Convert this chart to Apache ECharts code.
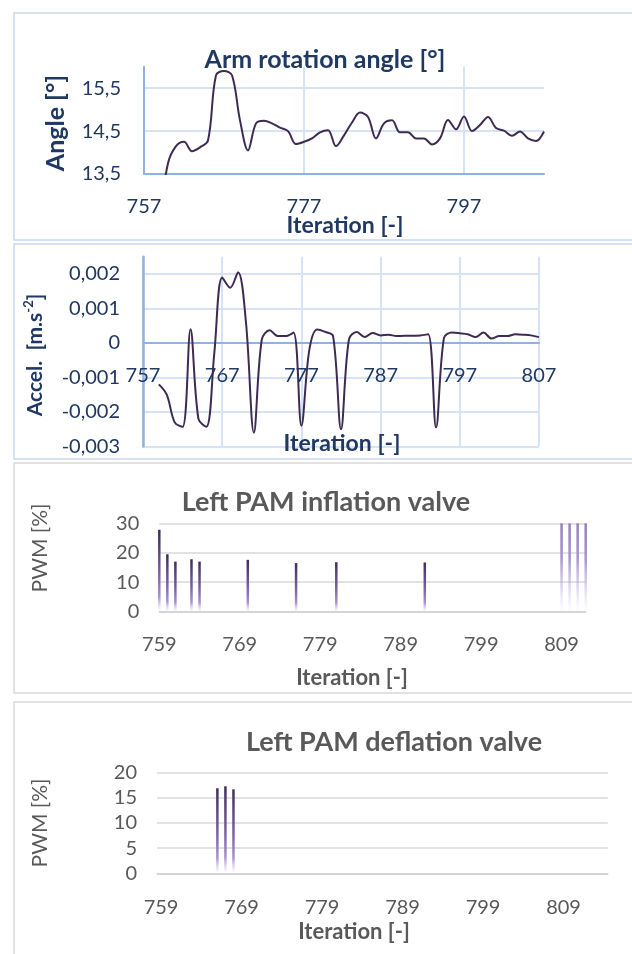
<!DOCTYPE html>
<html>
<head>
    <meta charset="utf-8">
    <title>Arm rotation / PAM valves</title>
    <script src="https://cdn.jsdelivr.net/npm/echarts@6/dist/echarts.min.js"></script>
    <style>
        body { margin: 0; background: #fff; }
    </style>
</head>
<body>
<div id="chart" style="width: 632px; height: 954px;"></div>

<script>
    // iterations of the two upper charts (757..807)
    var iterTop = [];
    for (var i = 757; i <= 807; i++) iterTop.push(String(i));
    // iterations of the valve charts
    var iterInfl = [];
    for (var i = 759; i <= 812; i++) iterInfl.push(String(i));
    var iterDefl = [];
    for (var i = 759; i <= 814; i++) iterDefl.push(String(i));

    // arm rotation angle [deg], one value per iteration 757..807
    var angle = [
        null, null, 12.5, 13.75, 14.15, 14.25, 14.03, 14.12, 14.28, 15.8,
        15.9, 15.8, 14.75, 14.05, 14.68, 14.74, 14.68, 14.58, 14.5, 14.2,
        14.25, 14.33, 14.47, 14.52, 14.15, 14.4, 14.7, 14.93, 14.83, 14.33,
        14.68, 14.75, 14.47, 14.47, 14.33, 14.33, 14.19, 14.33, 14.76, 14.54,
        14.84, 14.5, 14.64, 14.83, 14.57, 14.51, 14.39, 14.49, 14.33, 14.27, 14.49
    ];
    // acceleration [m.s-2], iterations 757..807
    var accel = [
        null, null, -0.0012, -0.0015, -0.0023, -0.00243, 0.0004, -0.0022, -0.00243, -0.0003,
        0.0019, 0.0016, 0.00205, 0.0006, -0.0026, 0.0001, 0.00037, 0.0002, 0.0002, 0.0003,
        -0.0024, -0.0002, 0.00039, 0.00032, 0.0002, -0.0025, 0.0001, 0.00032, 0.00017, 0.00029,
        0.00022, 0.00024, 0.0002, 0.00021, 0.00021, 0.00022, 0.00025, -0.00245, 0.00015, 0.0003,
        0.00028, 0.00025, 0.00017, 0.0003, 0.00013, 0.0002, 0.0002, 0.00025, 0.00024, 0.00022, 0.00017
    ];
    // inflation valve PWM [%] (only the non-zero iterations)
    var inflIter = [759, 760, 761, 763, 764, 770, 776, 781, 792, 809, 810, 811, 812];
    var inflPwm = [27.8, 19.5, 17, 17.8, 17, 17.6, 16.5, 16.8, 16.7, 100, 100, 100, 100];
    // deflation valve PWM [%]
    var deflIter = [766, 767, 768];
    var deflPwm = [16.9, 17.3, 16.7];

    var angleTicks = [13.5, 14.5, 15.5];
    var accelTicks = [-0.003, -0.002, -0.001, 0, 0.001, 0.002];

    var navy = '#1f3864';
    var grey = '#595959';
    var axisBlue = '#8db3e2';
    var gridBlue = '#d5e3f4';
    var gridGrey = '#d9d9d9';
    var lineCol = '#3d2c52';

    // column fill: dark purple at the top fading out at the base
    function mix(a, b, t) {
        var pa = [parseInt(a.substr(1, 2), 16), parseInt(a.substr(3, 2), 16), parseInt(a.substr(5, 2), 16)];
        var pb = [parseInt(b.substr(1, 2), 16), parseInt(b.substr(3, 2), 16), parseInt(b.substr(5, 2), 16)];
        return 'rgb(' + pa.map(function (v, k) { return Math.round(v + (pb[k] - v) * t); }).join(',') + ')';
    }
    function barFill(value, max) {
        // a column taller than the axis only shows its lower part
        var f = value > max ? 1 - max / value : 0;
        var stops = [[0, '#3e2d5a'], [0.55, '#7b65a6'], [0.82, '#a893d0']];
        var out = [];
        for (var k = 0; k < stops.length; k++) {
            var s = stops[k];
            if (s[0] >= f) {
                if (!out.length && k > 0) {
                    var p = stops[k - 1];
                    out.push({ offset: 0, color: mix(p[1], s[1], (f - p[0]) / (s[0] - p[0])) });
                }
                out.push({ offset: (s[0] - f) / (1 - f), color: s[1] });
            }
        }
        out.push({ offset: 1, color: 'rgba(200,185,230,0)' });
        return new echarts.graphic.LinearGradient(0, 0, 0, 1, out);
    }
    function sparse(cats, its, vals, max) {
        return cats.map(function (c) {
            var k = its.indexOf(+c);
            if (k < 0) return '-';
            return { value: vals[k], itemStyle: { color: barFill(vals[k], max) } };
        });
    }
    function comma(v) { return String(v).replace('.', ','); }

    var chart = echarts.init(document.getElementById('chart'));

    function txt(x, y, text, font, color, rot) {
        return {
            type: 'text', x: x, y: y, rotation: rot || 0, z: 100,
            style: { text: text, font: font, fill: color, textAlign: 'center', textVerticalAlign: 'middle' }
        };
    }
    function box(y, h, color) {
        return {
            type: 'rect', z: -1, shape: { x: 14, y: y, width: 700, height: h },
            style: { fill: 'none', stroke: color, lineWidth: 1.5 }
        };
    }

    var option = {
        backgroundColor: '#fff',
        animation: false,
        textStyle: { fontFamily: 'Lato' },
        grid: [
            { left: 144, top: 66.7, width: 400, height: 107.3 },
            { left: 143, top: 256.7, width: 396, height: 189.8 },
            { left: 159.3, top: 523.3, width: 426.4, height: 88.4 },
            { left: 157, top: 772.7, width: 450.8, height: 100.6 }
        ],
        xAxis: [
            {
                type: 'category', gridIndex: 0, data: iterTop, boundaryGap: false,
                axisLine: { lineStyle: { color: axisBlue, width: 2 } },
                axisTick: { show: false },
                axisLabel: { interval: 19, margin: 23, color: navy, fontSize: 20 },
                splitLine: { show: true, interval: 19, lineStyle: { color: gridBlue, width: 2 } }
            },
            {
                type: 'category', gridIndex: 1, data: iterTop, boundaryGap: false,
                axisLine: { onZero: true, lineStyle: { color: axisBlue, width: 2 } },
                axisTick: { show: false },
                // labels sit just under the zero line, as in the original
                axisLabel: { interval: 9, margin: -81, color: navy, fontSize: 20 },
                splitLine: { show: true, interval: 9, lineStyle: { color: gridBlue, width: 2 } }
            },
            {
                type: 'category', gridIndex: 2, data: iterInfl, boundaryGap: false,
                axisLine: { lineStyle: { color: '#d0d0d0', width: 1.5 } },
                axisTick: { show: false },
                axisLabel: { interval: 9, margin: 23, color: grey, fontSize: 20 }
            },
            {
                type: 'category', gridIndex: 3, data: iterDefl, boundaryGap: true,
                axisLine: { lineStyle: { color: '#d0d0d0', width: 1.5 } },
                axisTick: { show: false },
                axisLabel: { interval: 9, margin: 24, color: grey, fontSize: 20 }
            }
        ],
        yAxis: [
            {
                type: 'value', gridIndex: 0, min: 13.5, max: 16,
                axisLine: { show: true, lineStyle: { color: axisBlue, width: 2 } },
                axisTick: { show: false, customValues: angleTicks },
                axisLabel: { customValues: angleTicks, margin: 23, color: navy, fontSize: 20, formatter: comma },
                splitLine: { lineStyle: { color: gridBlue, width: 2 } }
            },
            {
                type: 'value', gridIndex: 1, min: -0.003, max: 0.0025,
                axisLine: { show: true, lineStyle: { color: axisBlue, width: 2.5 } },
                axisTick: { show: false, customValues: accelTicks },
                axisLabel: { customValues: accelTicks, margin: 23, color: navy, fontSize: 20, formatter: comma },
                splitLine: { lineStyle: { color: gridBlue, width: 2 } }
            },
            {
                type: 'value', gridIndex: 2, min: 0, max: 30, interval: 10,
                axisLabel: { margin: 20, color: grey, fontSize: 20 },
                splitLine: { lineStyle: { color: gridGrey, width: 1.5 } }
            },
            {
                type: 'value', gridIndex: 3, min: 0, max: 20, interval: 5,
                axisLabel: { margin: 20, color: grey, fontSize: 20 },
                splitLine: { lineStyle: { color: gridGrey, width: 1.5 } }
            }
        ],
        series: [
            {
                type: 'line', xAxisIndex: 0, yAxisIndex: 0, data: angle, smooth: 0.35,
                showSymbol: false, clip: true, lineStyle: { color: lineCol, width: 2 }
            },
            {
                type: 'line', xAxisIndex: 1, yAxisIndex: 1, data: accel, smooth: 0.35,
                showSymbol: false, clip: true, lineStyle: { color: lineCol, width: 2 }
            },
            {
                type: 'bar', xAxisIndex: 2, yAxisIndex: 2, data: sparse(iterInfl, inflIter, inflPwm, 30),
                barWidth: 2.5, clip: true
            },
            {
                type: 'bar', xAxisIndex: 3, yAxisIndex: 3, data: sparse(iterDefl, deflIter, deflPwm, 20),
                barWidth: 2.5, clip: true
            }
        ],
        graphic: [
            box(13, 227, '#c6d9f1'),
            box(244, 215, '#c6d9f1'),
            box(463, 230, '#d9d9d9'),
            box(702, 300, '#d9d9d9'),
            txt(325, 60, 'Arm rotation angle [°]', 'bold 25px Lato', navy),
            txt(56, 123, 'Angle [°]', 'bold 25px Lato', navy, Math.PI / 2),
            txt(345, 226, 'Iteration [-]', 'bold 23px Lato', navy),
            {
                type: 'text', x: 35, y: 355, rotation: Math.PI / 2, z: 100,
                style: {
                    text: '{b|Accel.  [m.s}{s|-2}{b|]}',
                    textAlign: 'center', textVerticalAlign: 'middle',
                    rich: {
                        b: { font: 'bold 21px Lato', fill: navy, lineHeight: 26 },
                        s: { font: 'bold 13px Lato', fill: navy, verticalAlign: 'top', lineHeight: 15 }
                    }
                }
            },
            txt(342, 444, 'Iteration [-]', 'bold 23px Lato', navy),
            txt(326, 502, 'Left PAM inflation valve', 'bold 27px Lato', grey),
            txt(40, 548, 'PWM [%]', '21px Lato', grey, Math.PI / 2),
            txt(352, 678, 'Iteration [-]', 'bold 22px Lato', grey),
            txt(394, 742, 'Left PAM deflation valve', 'bold 27px Lato', grey),
            txt(40, 823, 'PWM [%]', '21px Lato', grey, Math.PI / 2),
            txt(354, 932, 'Iteration [-]', 'bold 22px Lato', grey)
        ]
    };
    chart.setOption(option);
</script>
</body>
</html>
